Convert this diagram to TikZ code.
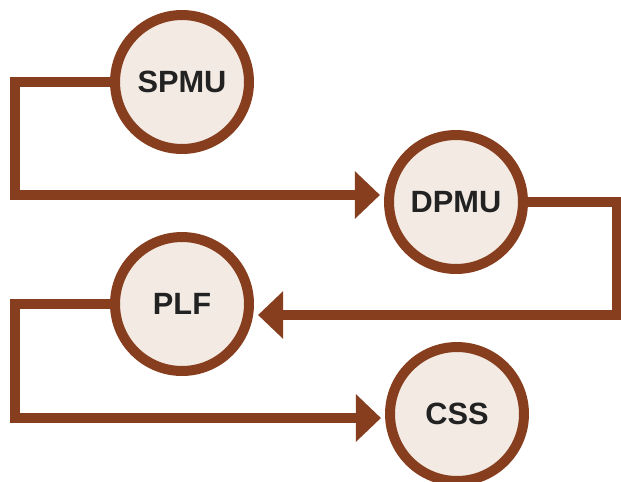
\documentclass[tikz,border=0pt]{standalone}
\usepackage{fontspec}
\setmainfont{Liberation Sans}
\usepackage{tikz}
\usetikzlibrary{arrows.meta}
\definecolor{rust}{HTML}{873E1E}
\definecolor{cream}{HTML}{F2EAE3}
\definecolor{inkgray}{HTML}{222222}

\tikzset{
  unit/.style={circle, draw=rust, fill=cream, line width=0.2cm,
    minimum size=2.68cm, inner sep=0pt, text=inkgray,
    font=\bfseries\fontsize{17.5}{20}\selectfont},
  link/.style={draw=rust, line width=0.2cm,
    -{Triangle[length=0.5cm, width=0.92cm]}, shorten >=2.3pt}
}

\begin{document}
\begin{tikzpicture}[x=0.02cm, y=-0.02cm]

% Frame
\useasboundingbox (0,0) rectangle (621,481);

% Units
\node[unit] (spmu) at (182,82) {SPMU};
\node[unit] (dpmu) at (456,202) {DPMU};
\node[unit] (plf) at (182,304) {PLF};
\node[unit] (css) at (457,414) {CSS};

% Connectors
\draw[link] (spmu.west) -| (15,195) -- (dpmu.west |- 0,195);
\draw[link] (dpmu.east) -| (617,315) -- (plf.east |- 0,315);
\draw[link] (plf.west) -| (15,418) -- (css.west |- 0,418);

\end{tikzpicture}
\end{document}
